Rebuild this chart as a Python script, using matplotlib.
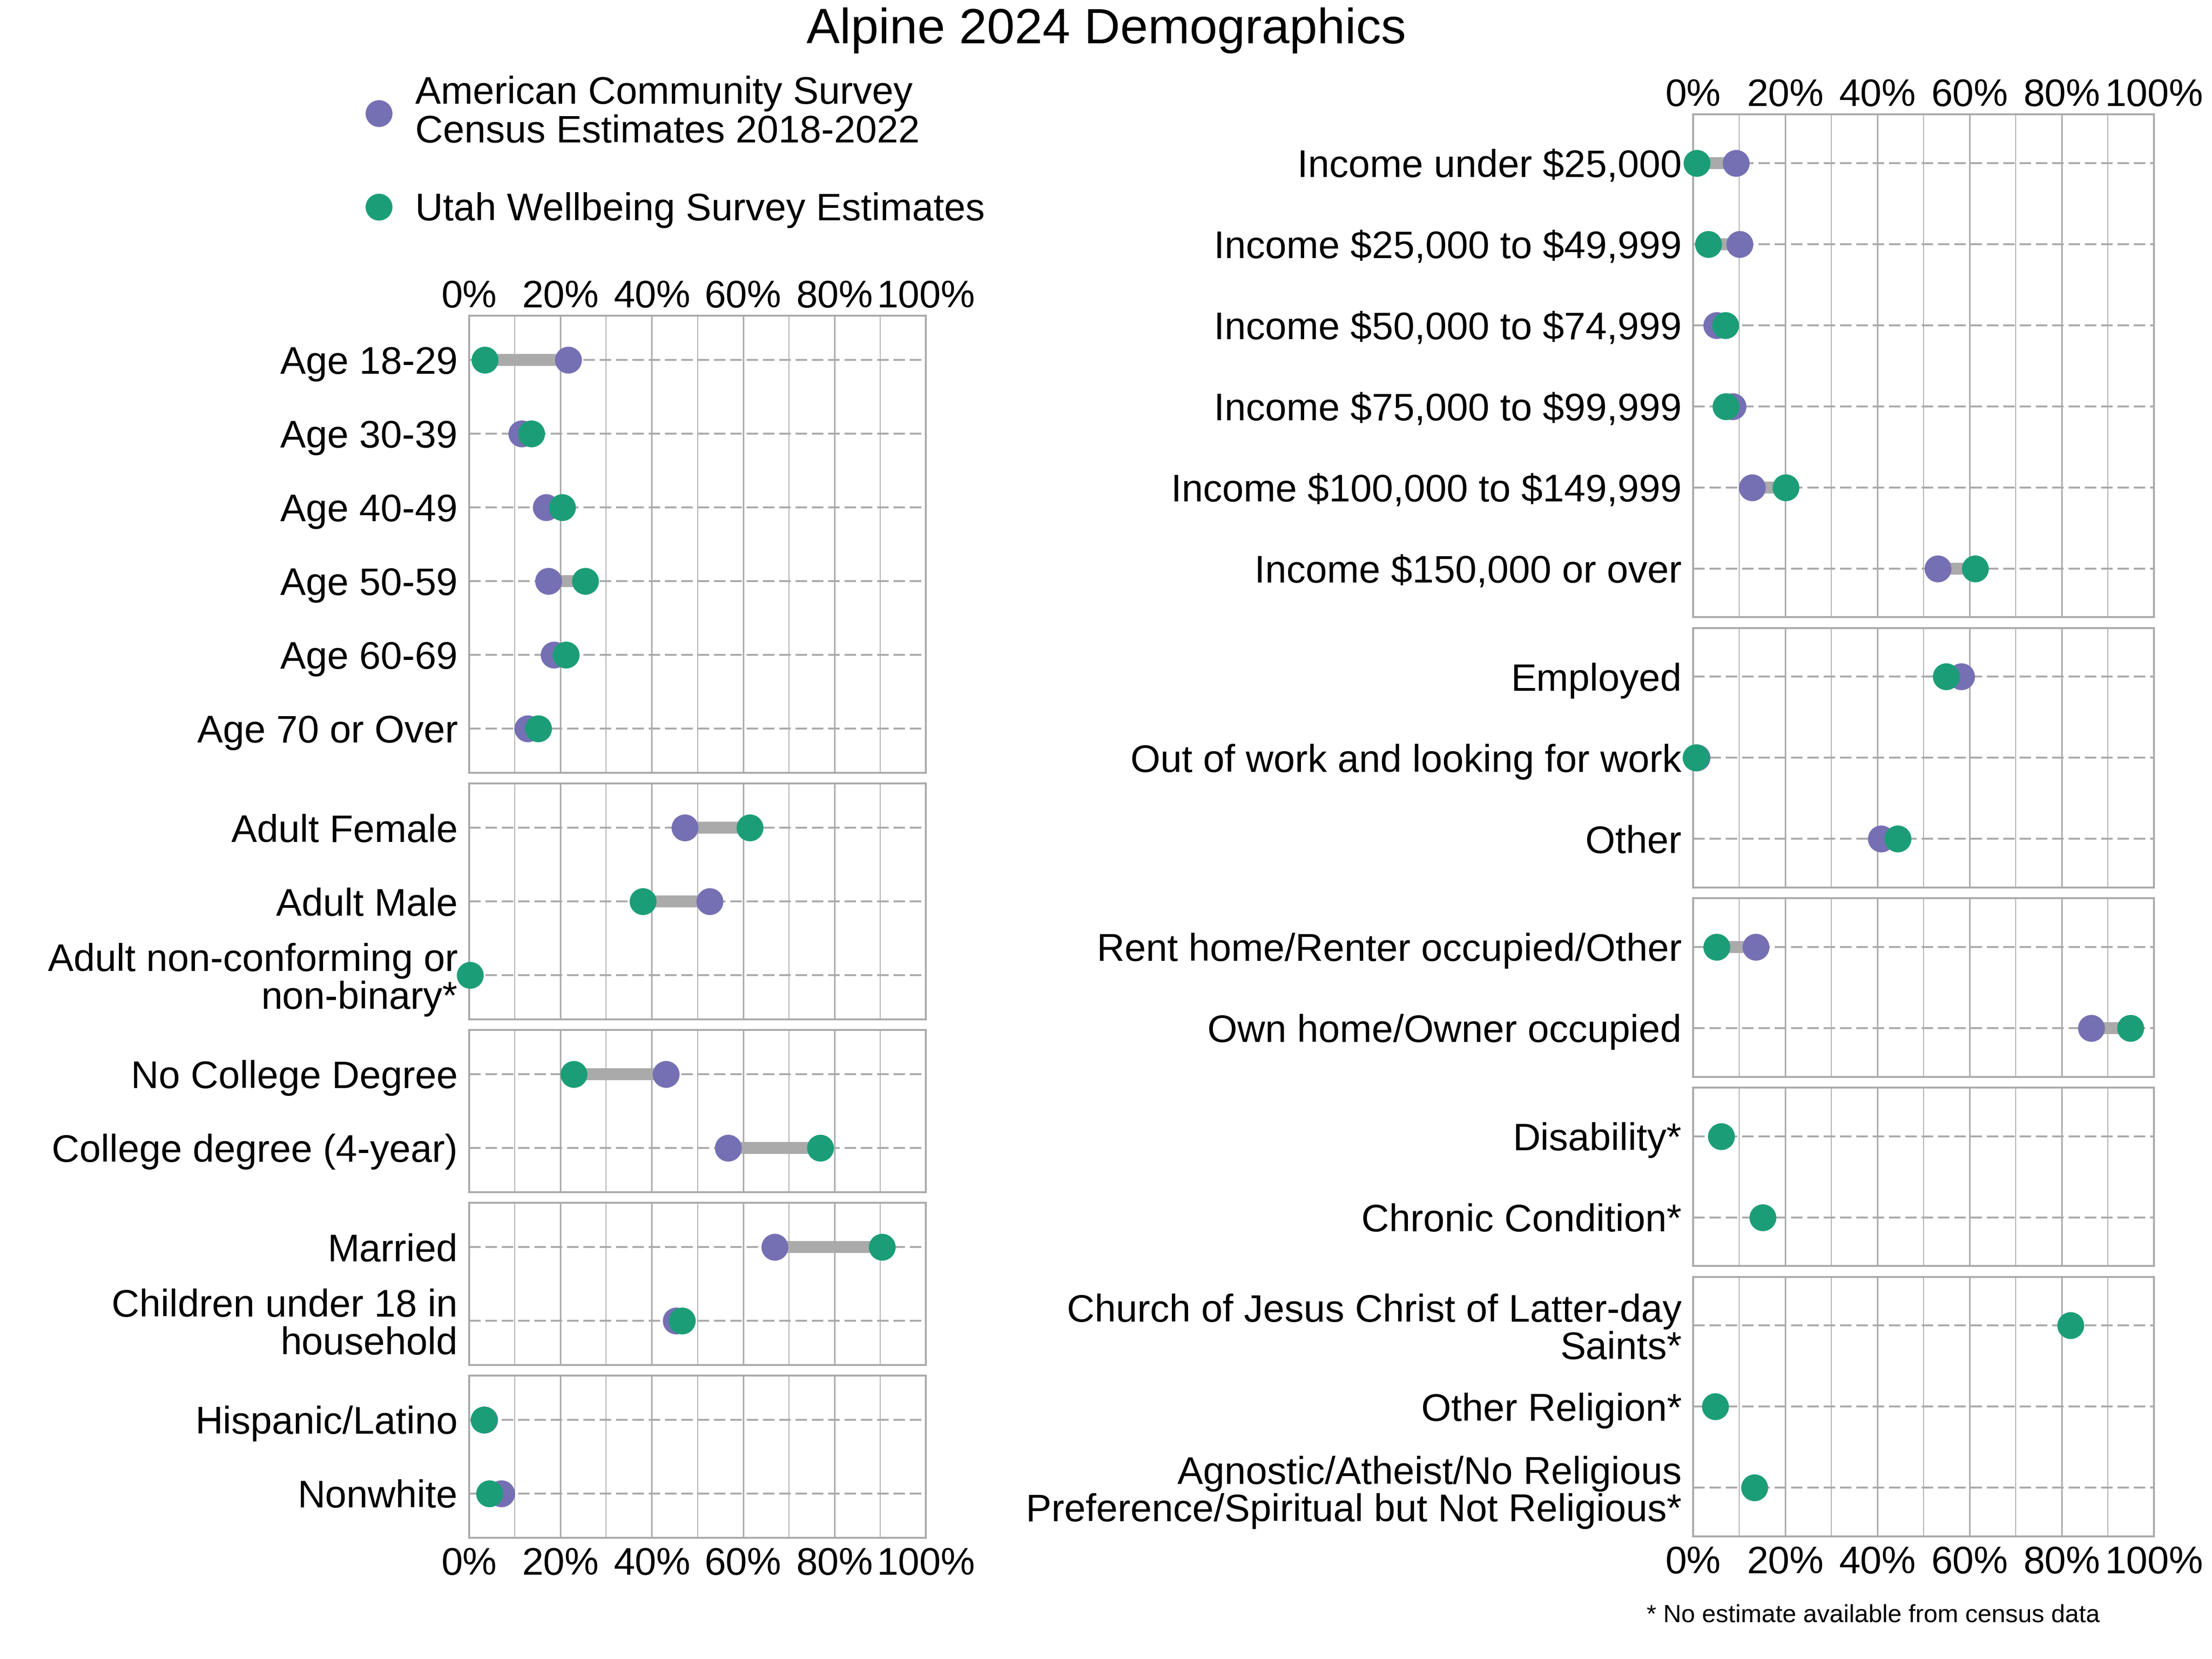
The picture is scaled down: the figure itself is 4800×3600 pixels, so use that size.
import numpy as np
import matplotlib
matplotlib.use('Agg')
import matplotlib.pyplot as plt
from matplotlib.lines import Line2D
from matplotlib.ticker import MultipleLocator, FuncFormatter

plt.rcParams['font.family'] = ['Liberation Sans', 'DejaVu Sans']

nan = np.nan

# ---------------- data (percent) ----------------
age_labels = ["Age 18-29", "Age 30-39", "Age 40-49", "Age 50-59", "Age 60-69", "Age 70 or Over"]
age_acs = [21.7, 11.5, 16.9, 17.4, 18.6, 12.8]
age_uws = [3.4, 13.6, 20.4, 25.4, 21.2, 15.1]

gender_labels = ["Adult Female", "Adult Male", "Adult non-conforming or\nnon-binary*"]
gender_acs = [47.2, 52.7, nan]
gender_uws = [61.5, 38.0, 0.2]

edu_labels = ["No College Degree", "College degree (4-year)"]
edu_acs = [43.1, 56.7]
edu_uws = [22.9, 76.9]

family_labels = ["Married", "Children under 18 in\nhousehold"]
family_acs = [66.9, 45.3]
family_uws = [90.4, 46.6]

eth_labels = ["Hispanic/Latino", "Nonwhite"]
eth_acs = [3.3, 7.1]
eth_uws = [3.2, 4.4]

income_labels = ["Income under $25,000", "Income $25,000 to $49,999", "Income $50,000 to $74,999",
                 "Income $75,000 to $99,999", "Income $100,000 to $149,999", "Income $150,000 or over"]
income_acs = [9.3, 10.1, 5.1, 8.6, 12.8, 53.1]
income_uws = [0.8, 3.3, 7.0, 7.1, 20.1, 61.2]

emp_labels = ["Employed", "Out of work and looking for work", "Other"]
emp_acs = [58.2, 0.8, 40.8]
emp_uws = [54.9, 0.6, 44.4]

home_labels = ["Rent home/Renter occupied/Other", "Own home/Owner occupied"]
home_acs = [13.6, 86.4]
home_uws = [5.1, 94.9]

health_labels = ["Disability*", "Chronic Condition*"]
health_acs = [nan, nan]
health_uws = [6.1, 15.1]

rel_labels = ["Church of Jesus Christ of Latter-day\nSaints*", "Other Religion*",
              "Agnostic/Atheist/No Religious\nPreference/Spiritual but Not Religious*"]
rel_acs = [nan, nan, nan]
rel_uws = [81.9, 4.8, 13.3]

legend_labels = ["American Community Survey\nCensus Estimates 2018-2022", "Utah Wellbeing Survey Estimates"]
title = "Alpine 2024 Demographics"
footnote = "* No estimate available from census data"

# ---------------- style ----------------
ACS_COLOR = '#7570b3'
UWS_COLOR = '#1b9e77'
GRID = '#aaaaaa'
SEG = '#aaaaaa'
FS = 20

W, H = 4800, 3600
fig = plt.figure(figsize=(16, 12), dpi=300)


def draw_panel(ax, labels, acs, uws):
    acs = np.asarray(acs, float)
    uws = np.asarray(uws, float)
    n = len(labels)
    pos = np.arange(n)
    ax.set_xlim(0, 100)
    ax.set_ylim(n - 0.4, -0.6)
    ax.set_axisbelow(True)
    ax.xaxis.set_major_locator(MultipleLocator(20))
    ax.xaxis.set_minor_locator(MultipleLocator(10))
    ax.xaxis.set_major_formatter(FuncFormatter(lambda v, p: f"{v:.0f}%"))
    ax.grid(which='major', axis='x', color=GRID, lw=0.8)
    ax.grid(which='minor', axis='x', color=GRID, lw=0.45)
    ax.set_yticks(pos)
    ax.set_yticklabels([l.replace('$', r'\$') for l in labels], fontsize=FS)
    for t in ax.get_yticklabels():
        t.set_linespacing(1.05)
    ax.grid(which='major', axis='y', color=GRID, lw=1.0, ls=(0, (6, 2.5)))
    ax.tick_params(which='both', length=0, labelsize=FS)
    ax.tick_params(axis='y', pad=6)
    for s in ax.spines.values():
        s.set_color(GRID)
        s.set_linewidth(1.0)
    m = np.isfinite(acs) & np.isfinite(uws)
    ax.hlines(pos[m], np.minimum(acs, uws)[m], np.maximum(acs, uws)[m],
              color=SEG, lw=6.2, zorder=2)
    ax.plot(acs, pos, 'o', ms=14, color=ACS_COLOR, mec='none', zorder=3, clip_on=False)
    ax.plot(uws, pos, 'o', ms=14, color=UWS_COLOR, mec='none', zorder=4, clip_on=False)


def make_column(groups, left_px, width_px, top_px, unit_px, gap_px):
    y = top_px
    axes = []
    for labels, acs, uws in groups:
        n = len(labels)
        h = (n + 0.2) * unit_px
        ax = fig.add_axes([left_px / W, 1 - (y + h) / H, width_px / W, h / H])
        draw_panel(ax, labels, acs, uws)
        axes.append(ax)
        y += h + gap_px
    for i, ax in enumerate(axes):
        if i == 0:
            ax.tick_params(axis='x', which='both', top=True, labeltop=True,
                           bottom=False, labelbottom=False, pad=0.3)
        elif i == len(axes) - 1:
            ax.tick_params(axis='x', which='both', labelbottom=True, pad=4.5)
        else:
            ax.tick_params(axis='x', which='both', labelbottom=False)
    return axes


left_groups = [(age_labels, age_acs, age_uws),
               (gender_labels, gender_acs, gender_uws),
               (edu_labels, edu_acs, edu_uws),
               (family_labels, family_acs, family_uws),
               (eth_labels, eth_acs, eth_uws)]
right_groups = [(income_labels, income_acs, income_uws),
                (emp_labels, emp_acs, emp_uws),
                (home_labels, home_acs, home_uws),
                (health_labels, health_acs, health_uws),
                (rel_labels, rel_acs, rel_uws)]

make_column(left_groups, 1018, 991, 685, 160, 23)
make_column(right_groups, 3674, 1000, 248, 176, 23.5)

fig.text(0.5, 1 - 94 / H, title, ha='center', va='baseline', fontsize=26)

handles = [Line2D([], [], ls='none', marker='o', ms=14, color=ACS_COLOR, mec='none'),
           Line2D([], [], ls='none', marker='o', ms=14, color=UWS_COLOR, mec='none')]
leg = fig.legend(handles, legend_labels, loc='upper left',
                 bbox_to_anchor=(780 / W, 1 - 164 / H), frameon=False, fontsize=FS,
                 handlelength=1.0, handletextpad=0.45, labelspacing=1.09,
                 borderpad=0, borderaxespad=0)
for t in leg.get_texts():
    t.set_linespacing(1.1)

fig.text(3573 / W, 1 - 3519 / H, footnote, ha='left', va='baseline', fontsize=13)

fig.savefig('out.png', dpi=300)
